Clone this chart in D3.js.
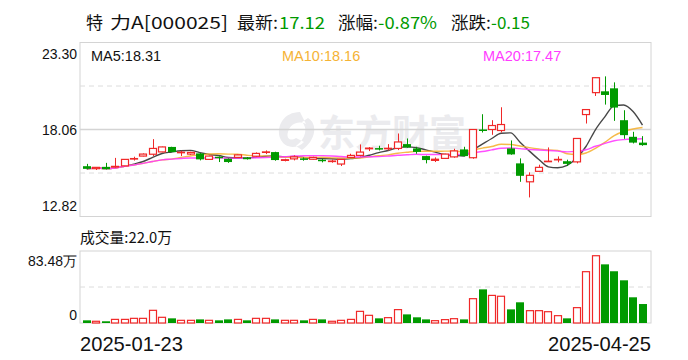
<!DOCTYPE html>
<html><head><meta charset="utf-8">
<script src="https://cdn.jsdelivr.net/npm/d3@7"></script>
<style>body{margin:0;background:#fff}svg{display:block}</style>
</head><body><svg id="c" width="688" height="360"></svg>
<script>
const dates = ["2025-01-23","2025-04-25"];
const opens  = [15.85,15.70,15.81,15.80,15.87,16.28,16.46,16.57,16.71,17.01, 16.66,16.58,16.62,16.26,16.42,16.30,16.38,16.38,16.45,16.68, 16.70,16.20,16.29,16.32,16.27,16.24,16.14,15.98,16.38,16.50, 16.90,16.94,16.90,16.92,17.18,16.92,16.46,16.20,16.32,16.41, 16.86,16.36,18.06,18.06,18.00,16.92,16.02,14.91,15.54,16.13, 16.24,16.15,16.11,18.96,20.28,20.36,20.54,18.62,17.62,17.27];
const highs  = [15.99,15.80,16.05,16.35,16.28,16.42,16.62,17.48,17.03,17.02, 16.78,16.72,16.64,16.48,16.44,16.32,16.55,16.40,16.68,16.80, 16.72,16.30,16.50,16.38,16.42,16.30,16.25,16.28,16.60,17.16, 17.00,17.08,17.18,17.82,17.52,17.02,16.48,16.38,16.60,16.90, 17.02,18.08,18.98,18.62,19.40,17.40,16.32,15.48,15.94,16.98, 16.44,16.24,17.54,19.28,21.20,21.26,20.90,19.22,17.92,17.66];
const lows   = [15.66,15.62,15.65,15.76,15.85,16.19,16.44,16.46,16.69,16.69, 16.46,16.52,16.20,16.24,16.10,16.05,16.36,16.25,16.40,16.58, 16.18,16.14,16.20,16.18,16.25,16.08,16.06,15.86,16.36,16.44, 16.76,16.80,16.80,16.82,16.96,16.60,16.02,16.10,16.30,16.36, 16.44,16.30,17.88,17.74,17.88,16.54,14.91,13.97,15.52,16.11, 16.08,15.86,16.02,18.42,20.08,19.56,18.58,17.50,17.22,17.08];
const closes = [15.69,15.78,15.67,15.84,16.26,16.31,16.58,16.92,17.01,16.70, 16.69,16.68,16.26,16.46,16.38,16.10,16.53,16.27,16.62,16.71, 16.22,16.24,16.41,16.30,16.38,16.22,16.16,16.26,16.50,16.70, 16.94,16.92,16.93,17.31,16.98,16.71,16.22,16.27,16.58,16.77, 16.46,18.06,18.00,18.30,18.36,16.56,15.27,15.30,15.78,16.15, 16.26,15.99,17.52,19.26,21.18,20.14,19.38,17.72,17.27,17.12];
const volumes = [3.1,2.0,2.0,4.2,4.2,5.4,5.4,14.7,6.6,5.4, 3.1,3.1,4.2,3.1,3.1,4.2,4.2,3.1,5.4,5.4, 4.2,3.1,3.1,3.1,4.2,4.2,2.0,3.1,4.2,13.5, 8.9,5.4,6.2,15.5,10,6.6,4.2,2.7,3.9,5.0, 4.2,28.2,39,32,31,15.8,24,14.3,14.3,13.1, 8.5,5.4,17.8,59.5,78,68,60,49.5,29.8,22.0];
const priceTicks = [12.82,18.06,23.30];
const volTicks = ["0","83.48万"];
const volMax = 83.48;
const maPeriods = [5,10,20];
const maLabels = ["MA5:18.31","MA10:18.16","MA20:17.47"];

const RED="#f02828", GREEN="#009a00";
const svg=d3.select("#c");
const L=80,R=651, PT=42.5, PB=216.5, VT=251, VB=323;
const idx=d3.range(closes.length);
const x=d3.scaleBand().domain(idx).range([82,647.2]).paddingInner(0.19).paddingOuter(0.095);
const y=d3.scaleLinear().domain([12.82,23.30]).range([PB,PT]);
const yv=d3.scaleLinear().domain([0,volMax]).range([VB,VT]);
const cx=i=>x(i)+x.bandwidth()/2;
const up=i=>closes[i]>=opens[i];

// title
const tf="'Noto Sans CJK SC','Noto Sans',sans-serif";
const title=[["特",86,null,"#111"],["力A[000025]",110,118,"#111"],["最新:",237,41,"#111"],["17.12",279,46,GREEN],["涨幅:",338,40,"#111"],["-0.87%",378,59,GREEN],["涨跌:",451,40,"#111"],["-0.15",491,39,GREEN]];
title.forEach(t=>{const e=svg.append("text").attr("x",t[1]).attr("y",29).attr("font-family",tf).attr("font-size",17).attr("fill",t[3]).text(t[0]);
  if(t[2]) e.attr("textLength",t[2]).attr("lengthAdjust","spacingAndGlyphs");});

// watermark
const wm=svg.append("g").attr("fill","#ebebee");
wm.append("text").attr("x",318).attr("y",147).attr("font-family",tf).attr("font-weight",700).attr("font-size",37).text("东方财富");
wm.append("path").attr("d","M300,112 C284,112 276,126 280,138 C284,148 296,150 304,142 L296,138 C290,142 286,138 288,132 C290,124 298,120 306,124 Z M308,118 C318,124 316,140 302,150 L296,146 C306,138 308,128 302,122 Z");

// price frame & grid
const g=svg.append("g");
g.append("rect").attr("x",L).attr("y",PT).attr("width",R-L).attr("height",PB-PT).attr("fill","none").attr("stroke","#d4d4d4");
[y(15.44),y(20.68)].forEach(v=>g.append("line").attr("x1",L).attr("x2",R).attr("y1",v).attr("y2",v).attr("stroke","#dcdcdc").attr("stroke-dasharray","5,4"));
g.append("line").attr("x1",L).attr("x2",R).attr("y1",y(18.06)).attr("y2",y(18.06)).attr("stroke","#d4d4d4").attr("stroke-width",1.5);

// price labels
const lf="'Liberation Sans Narrow','Liberation Sans',sans-serif";
svg.append("text").attr("x",77).attr("y",59).attr("text-anchor","end").attr("font-family",lf).attr("font-size",14).attr("fill","#111").text(priceTicks[2].toFixed(2));
svg.append("text").attr("x",77).attr("y",y(priceTicks[1])+5).attr("text-anchor","end").attr("font-family",lf).attr("font-size",14).attr("fill","#111").text(priceTicks[1].toFixed(2));
svg.append("text").attr("x",77).attr("y",211).attr("text-anchor","end").attr("font-family",lf).attr("font-size",14).attr("fill","#111").text(priceTicks[0].toFixed(2));

// MA lines
const maColors=["#333333","#f5b335","#ff3cff"];
maPeriods.forEach((p,k)=>{
  const ma=idx.map(i=>{const s=Math.max(0,i-p+1);return d3.mean(closes.slice(s,i+1));});
  g.append("path").datum(idx).attr("fill","none").attr("stroke",maColors[k]).attr("stroke-width",1.4).attr("opacity",0.9)
   .attr("d",d3.line().x(i=>cx(i)).y(i=>y(ma[i])).curve(d3.curveMonotoneX));
});
const maX=[91,282,483];
maLabels.forEach((t,k)=>svg.append("text").attr("x",maX[k]).attr("y",61).attr("font-family",lf).attr("font-size",14.5).attr("fill",k==0?"#111":maColors[k]).text(t));

// candles
const cg=g.append("g");
idx.forEach(i=>{
  const c=up(i)?RED:GREEN;
  const xc=Math.round(cx(i))+0.5;
  cg.append("line").attr("x1",xc).attr("x2",xc).attr("y1",y(highs[i])).attr("y2",y(lows[i])).attr("stroke",c);
  const top=y(Math.max(opens[i],closes[i])), bot=y(Math.min(opens[i],closes[i]));
  const bw=x.bandwidth();
  if(up(i)){
    cg.append("rect").attr("x",Math.round(x(i))+0.5).attr("y",top).attr("width",Math.round(bw)-1).attr("height",Math.max(0.5,bot-top)).attr("fill","#fff").attr("stroke",c).attr("stroke-width",1.2);
  } else {
    cg.append("rect").attr("x",Math.round(x(i))).attr("y",top).attr("width",Math.round(bw)).attr("height",Math.max(1.5,bot-top)).attr("fill",c);
  }
});

// volume
svg.append("text").attr("x",80).attr("y",243).attr("font-family",tf).attr("font-size",15).attr("fill","#111").attr("textLength",92).attr("lengthAdjust","spacingAndGlyphs").text("成交量:22.0万");
const vg=svg.append("g");
vg.append("rect").attr("x",L).attr("y",VT).attr("width",R-L).attr("height",VB-VT).attr("fill","none").attr("stroke","#d4d4d4");
vg.append("line").attr("x1",L).attr("x2",R).attr("y1",yv(volMax/2)).attr("y2",yv(volMax/2)).attr("stroke","#dcdcdc").attr("stroke-dasharray","5,4");
svg.append("text").attr("x",77).attr("y",266).attr("text-anchor","end").attr("font-family",lf).attr("font-size",14).attr("fill","#111").text(volTicks[1]);
svg.append("text").attr("x",77).attr("y",320).attr("text-anchor","end").attr("font-family",lf).attr("font-size",14).attr("fill","#111").text(volTicks[0]);
idx.forEach(i=>{
  const c=up(i)?RED:GREEN, bw=x.bandwidth();
  const t=yv(volumes[i]);
  if(up(i)) vg.append("rect").attr("x",Math.round(x(i))+0.5).attr("y",t).attr("width",Math.round(bw)-1).attr("height",Math.max(0.5,VB-t)).attr("fill","#fff").attr("stroke",c).attr("stroke-width",1.2);
  else vg.append("rect").attr("x",Math.round(x(i))).attr("y",t).attr("width",Math.round(bw)).attr("height",VB-t).attr("fill",c);
});

// dates
svg.append("text").attr("x",80).attr("y",351).attr("font-family",lf).attr("font-size",21).attr("fill","#111").attr("textLength",103).attr("lengthAdjust","spacingAndGlyphs").text(dates[0]);
svg.append("text").attr("x",548).attr("y",351).attr("font-family",lf).attr("font-size",21).attr("fill","#111").attr("textLength",103).attr("lengthAdjust","spacingAndGlyphs").text(dates[1]);
</script></body></html>
